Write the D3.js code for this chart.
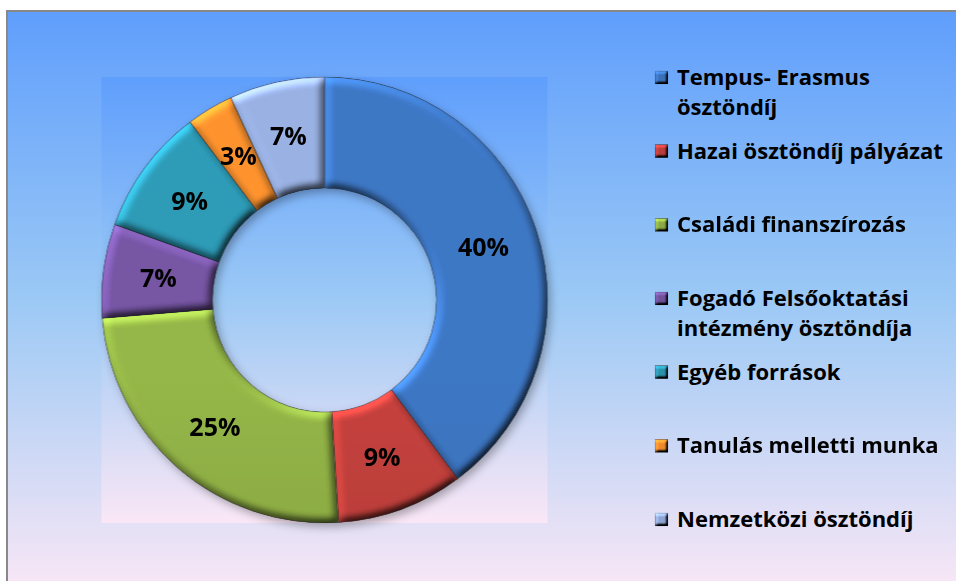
<!DOCTYPE html>
<html>
<head>
<meta charset="utf-8">
<script src="https://cdn.jsdelivr.net/npm/d3@7"></script>
<style>
  html, body { margin: 0; padding: 0; background: #fff; }
  svg { display: block; }
  text { font-family: "Open Sans", Lato, sans-serif; font-weight: bold; fill: #000; }
</style>
</head>
<body>
<svg id="chart" width="956" height="581"></svg>
<script>
'use strict';

// data (shares in %)
var categories = [
  "Tempus- Erasmus\nösztöndíj",
  "Hazai ösztöndíj pályázat",
  "Családi finanszírozás",
  "Fogadó Felsőoktatási\nintézmény ösztöndíja",
  "Egyéb források",
  "Tanulás melletti munka",
  "Nemzetközi ösztöndíj"
];
var shares = [39.8, 9.2, 24.7, 6.8, 9.2, 3.4, 6.9];
var sliceColors = ["#3a70b8", "#ba3d3a", "#8cab43", "#6f509a", "#2b91ab", "#ef8a2c", "#8fa6d4"];
var bgStops = ["#5f9efc", "#9cc9f5", "#fae7f6"];

var width = 956, height = 581;
var cx = 324.5, cy = 300, rOuter = 223, rInner = 112;

var svg = d3.select("#chart");
var defs = svg.append("defs");

// background gradient (used for frame and plot area)
var bg = defs.append("linearGradient").attr("id", "bg")
  .attr("x1", 0).attr("y1", 0).attr("x2", 0).attr("y2", 1);
bgStops.forEach(function(c, i) {
  bg.append("stop").attr("offset", i / (bgStops.length - 1)).attr("stop-color", c);
});

// soft bevel: light from top-left, flat areas keep their colour
function bevel(id, blur, scale) {
  var f = defs.append("filter").attr("id", id)
    .attr("color-interpolation-filters", "sRGB")
    .attr("x", "-5%").attr("y", "-5%").attr("width", "110%").attr("height", "110%");
  f.append("feGaussianBlur").attr("in", "SourceAlpha").attr("stdDeviation", blur).attr("result", "b");
  var l = f.append("feDiffuseLighting").attr("in", "b")
    .attr("surfaceScale", scale).attr("diffuseConstant", 0.707)
    .attr("lighting-color", "#fff").attr("result", "light");
  l.append("feDistantLight").attr("azimuth", 235).attr("elevation", 45);
  f.append("feComposite").attr("in", "SourceGraphic").attr("in2", "light")
    .attr("operator", "arithmetic")
    .attr("k1", 2).attr("k2", 0).attr("k3", 0).attr("k4", 0).attr("result", "lit");
  f.append("feComposite").attr("in", "lit").attr("in2", "SourceAlpha").attr("operator", "in");
}
bevel("bevel", 4, 3.5);
bevel("bevelSmall", 1.5, 3);

var shadow = defs.append("filter").attr("id", "shadow")
  .attr("x", "-10%").attr("y", "-10%").attr("width", "120%").attr("height", "120%");
shadow.append("feDropShadow").attr("dx", 3).attr("dy", 4).attr("stdDeviation", 4)
  .attr("flood-color", "#000").attr("flood-opacity", 0.3);

// slice gradients
sliceColors.forEach(function(c, i) {
  var g = defs.append("linearGradient").attr("id", "sg" + i)
    .attr("gradientUnits", "userSpaceOnUse")
    .attr("x1", 0).attr("y1", cy - rOuter).attr("x2", 0).attr("y2", cy + rOuter);
  g.append("stop").attr("offset", 0).attr("stop-color", d3.color(c).brighter(0.2));
  g.append("stop").attr("offset", 1).attr("stop-color", d3.color(c).darker(0.35));
});

// outer frame
svg.append("rect").attr("x", 7).attr("y", 11).attr("width", width).attr("height", height)
  .attr("fill", "url(#bg)").attr("stroke", "#888").attr("stroke-width", 2);

// plot area
svg.append("rect").attr("x", cx - rOuter).attr("y", cy - rOuter)
  .attr("width", rOuter * 2).attr("height", rOuter * 2)
  .attr("fill", "url(#bg)");

// donut
var pie = d3.pie().sort(null).value(function(d) { return d; });
var arc = d3.arc().innerRadius(rInner).outerRadius(rOuter);

var donut = svg.append("g")
  .attr("transform", "translate(" + cx + "," + cy + ")")
  .attr("filter", "url(#shadow)");

var arcs = pie(shares);

donut.selectAll("path.slice")
  .data(arcs)
  .enter().append("path")
    .attr("class", "slice")
    .attr("d", arc)
    .attr("fill", function(d, i) { return "url(#sg" + i + ")"; })
    .attr("stroke", "#222")
    .attr("stroke-opacity", 0.55)
    .attr("stroke-width", 0.8)
    .attr("filter", "url(#bevel)");

svg.append("g")
  .attr("transform", "translate(" + cx + "," + cy + ")")
  .selectAll("text")
  .data(arcs)
  .enter().append("text")
    .attr("transform", function(d) { return "translate(" + arc.centroid(d) + ")"; })
    .attr("text-anchor", "middle")
    .attr("dy", "0.36em")
    .style("font-size", "25px")
    .text(function(d) { return Math.round(d.value) + "%"; });

// legend
var rowY = d3.scalePoint().domain(d3.range(categories.length)).range([85, 527]);

var legend = svg.append("g").selectAll("g")
  .data(categories)
  .enter().append("g")
    .attr("transform", function(d, i) { return "translate(655," + rowY(i) + ")"; });

legend.append("rect")
  .attr("x", 0).attr("y", -14).attr("width", 13).attr("height", 13)
  .attr("fill", function(d, i) { return sliceColors[i]; })
  .attr("stroke", "#333").attr("stroke-opacity", 0.5).attr("stroke-width", 0.6)
  .attr("filter", "url(#bevelSmall)");

legend.append("text")
  .style("font-size", "22px")
  .selectAll("tspan")
  .data(function(d) { return d.split("\n"); })
  .enter().append("tspan")
    .attr("x", 22)
    .attr("y", function(d, j) { return j * 30; })
    .text(function(d) { return d; });
</script>
</body>
</html>
